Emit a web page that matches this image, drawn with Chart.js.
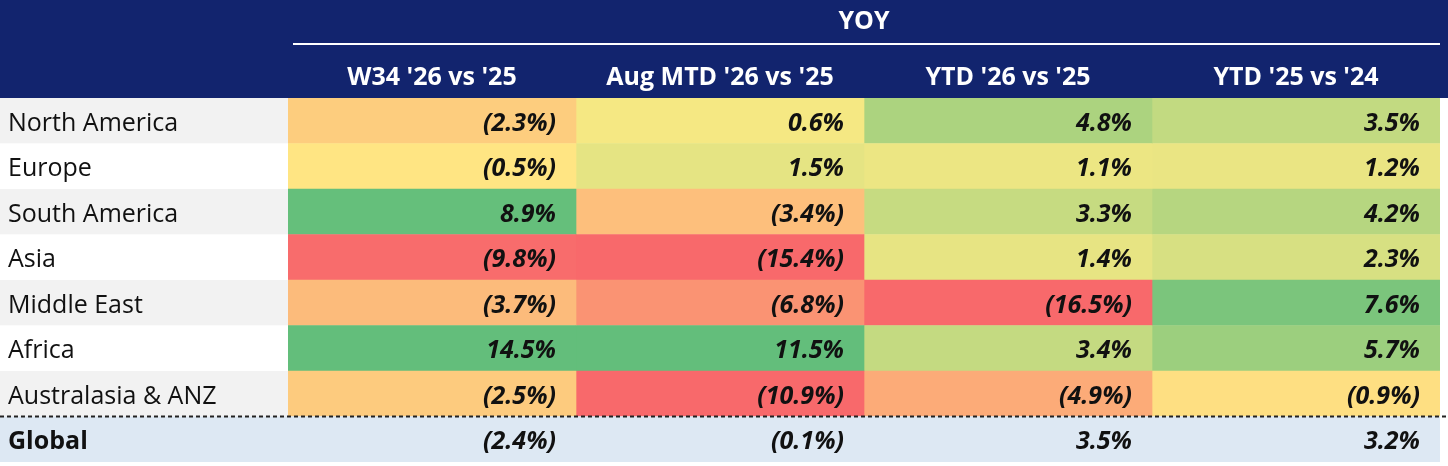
<!DOCTYPE html>
<html>
<head>
<meta charset="utf-8">
<script src="https://cdn.jsdelivr.net/npm/chart.js@4"></script>
<style>
html,body{margin:0;padding:0;background:#fff;}
#wrap{width:1448px;height:466px;}
</style>
</head>
<body>
<div id="wrap"><canvas id="tbl"></canvas></div>
<script>
var regions = ['North America', 'Europe', 'South America', 'Asia', 'Middle East', 'Africa', 'Australasia & ANZ', 'Global'];
var columns = ["W34 '26 vs '25", "Aug MTD '26 vs '25", "YTD '26 vs '25", "YTD '25 vs '24"];
var w34 = [-2.3, -0.5, 8.9, -9.8, -3.7, 14.5, -2.5, -2.4];
var augMtd = [0.6, 1.5, -3.4, -15.4, -6.8, 11.5, -10.9, -0.1];
var ytd26 = [4.8, 1.1, 3.3, 1.4, -16.5, 3.4, -4.9, 3.5];
var ytd25 = [3.5, 1.2, 4.2, 2.3, 7.6, 5.7, -0.9, 3.2];
var series = [w34, augMtd, ytd26, ytd25];

function mix(a, b, t) {
    return 'rgb(' + a.map(function (v, i) { return Math.round(v + (b[i] - v) * t); }).join(',') + ')';
}
function cellColor(v) {
    var red = [248, 105, 107], yel = [255, 235, 132], grn = [99, 190, 123];
    if (v <= 0) return mix(yel, red, Math.min(1, -v / 10));
    return mix(yel, grn, Math.min(1, v / 9));
}
function fmt(v) {
    var s = Math.abs(v).toFixed(1) + '%';
    return v < 0 ? '(' + s + ')' : s;
}

var last = regions.length - 1;
var datasets = series.map(function (vals, c) {
    return {
        label: columns[c],
        data: regions.map(function () { return [c, c + 1]; }),
        backgroundColor: vals.map(function (v, r) { return r === last ? '#dde8f3' : cellColor(v); }),
        borderWidth: 0,
        barPercentage: 1,
        categoryPercentage: 1,
        grouped: false
    };
});

var tablePlugin = {
    id: 'tablePlugin',
    beforeDatasetsDraw: function (chart) {
        var ctx = chart.ctx, x = chart.scales.x, y = chart.scales.y;
        var h = y.getPixelForValue(1) - y.getPixelForValue(0);
        ctx.save();
        // header
        ctx.fillStyle = '#12246e';
        ctx.fillRect(0, 0, 1448, y.getPixelForValue(0) - h / 2);
        ctx.strokeStyle = '#fff';
        ctx.lineWidth = 2;
        ctx.beginPath();
        ctx.moveTo(x.getPixelForValue(0) + 5, 44);
        ctx.lineTo(x.getPixelForValue(4), 44);
        ctx.stroke();
        ctx.fillStyle = '#fff';
        ctx.font = 'bold 25px "Open Sans"';
        ctx.textAlign = 'center';
        ctx.textBaseline = 'middle';
        ctx.fillText('YOY', (x.getPixelForValue(0) + x.getPixelForValue(4)) / 2, 22);
        columns.forEach(function (c, i) {
            ctx.fillText(c, (x.getPixelForValue(i) + x.getPixelForValue(i + 1)) / 2, 78);
        });
        // label column
        regions.forEach(function (r, i) {
            var cy = y.getPixelForValue(i);
            ctx.fillStyle = i === last ? '#dde8f3' : (i % 2 === 0 ? '#f2f2f2' : '#ffffff');
            ctx.fillRect(0, cy - h / 2, x.getPixelForValue(0), h);
            ctx.fillStyle = '#111';
            ctx.textAlign = 'left';
            ctx.font = (i === last ? 'bold ' : '') + '25px "Open Sans"';
            ctx.fillText(r, 8, cy + 3);
        });
        ctx.restore();
    },
    afterDatasetsDraw: function (chart) {
        var ctx = chart.ctx, x = chart.scales.x, y = chart.scales.y;
        var h = y.getPixelForValue(1) - y.getPixelForValue(0);
        ctx.save();
        ctx.fillStyle = '#111';
        ctx.textAlign = 'right';
        ctx.textBaseline = 'middle';
        ctx.font = 'italic bold 25px "Open Sans"';
        series.forEach(function (vals, c) {
            vals.forEach(function (v, r) {
                ctx.fillText(fmt(v), x.getPixelForValue(c + 1) - 20, y.getPixelForValue(r) + 3);
            });
        });
        var ly = y.getPixelForValue(last) - h / 2;
        ctx.strokeStyle = '#222';
        ctx.lineWidth = 2;
        ctx.setLineDash([4, 3]);
        ctx.beginPath();
        ctx.moveTo(0, ly);
        ctx.lineTo(1448, ly);
        ctx.stroke();
        ctx.restore();
    }
};

new Chart('tbl', {
    type: 'bar',
    data: { labels: regions, datasets: datasets },
    options: {
        indexAxis: 'y',
        maintainAspectRatio: false,
        animation: false,
        layout: { padding: { left: 288, top: 98, right: 8, bottom: 4 } },
        plugins: { legend: { display: false }, tooltip: { enabled: false } },
        scales: {
            x: { type: 'linear', min: 0, max: 4, display: false },
            y: { display: false, offset: true }
        }
    },
    plugins: [tablePlugin]
});
</script>
</body>
</html>
